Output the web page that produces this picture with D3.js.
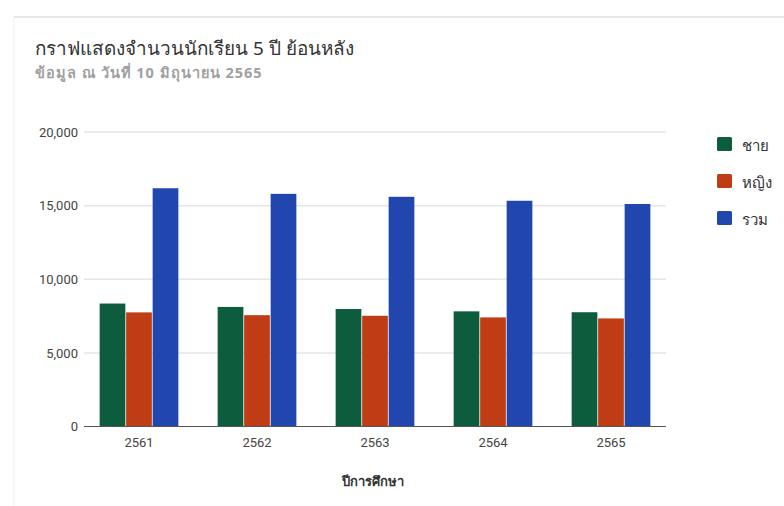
<!DOCTYPE html>
<html>
<head>
<meta charset="utf-8">
<script src="https://cdn.jsdelivr.net/npm/d3@7"></script>
<style>
html,body{margin:0;padding:0;background:#fff;}
svg{display:block;font-family:Roboto,"Noto Sans",sans-serif;}
</style>
</head>
<body>
<svg id="chart" width="784" height="506"></svg>
<script>
const categories = ["2561", "2562", "2563", "2564", "2565"];
const seriesNames = ["ชาย", "หญิง", "รวม"];
const male = [8350, 8120, 7980, 7820, 7760];
const female = [7750, 7560, 7520, 7410, 7340];
const total = [16180, 15800, 15600, 15330, 15110];
const yTicks = [0, 5000, 10000, 15000, 20000];
const colors = ["#0d5c3e", "#c03c14", "#2146ae"];
const titleText = "กราฟแสดงจำนวนนักเรียน 5 ปี ย้อนหลัง";
const subtitleText = "ข้อมูล ณ วันที่ 10 มิถุนายน 2565";
const xTitle = "ปีการศึกษา";

const series = [male, female, total];
const svg = d3.select("#chart");

// card frame
svg.append("line").attr("x1", 14).attr("x2", 784).attr("y1", 17).attr("y2", 17)
  .attr("stroke", "#e4e8e8").attr("stroke-width", 2);
svg.append("line").attr("x1", 14).attr("x2", 14).attr("y1", 17).attr("y2", 506)
  .attr("stroke", "#f0f0f0").attr("stroke-width", 1);

const plotLeft = 84, plotRight = 666, plotTop = 132, plotBottom = 426.5;
const y = d3.scaleLinear().domain([0, 20000]).range([plotBottom, plotTop]);
const x0 = d3.scaleBand().domain(categories).range([80, 670]).paddingInner(0.333).paddingOuter(0.1665);
const x1 = d3.scaleBand().domain(d3.range(series.length)).range([0, x0.bandwidth()]).paddingInner(0.03);

// gridlines
svg.append("g").selectAll("line").data(yTicks.filter(d => d > 0)).join("line")
  .attr("x1", plotLeft).attr("x2", plotRight)
  .attr("y1", d => y(d)).attr("y2", d => y(d))
  .attr("stroke", "#e6e6e6").attr("stroke-width", 1.5);

// y axis labels
const yAxis = d3.axisLeft(y).tickValues(yTicks).tickSize(0).tickPadding(0)
  .tickFormat(d3.format(","));
const gy = svg.append("g").attr("transform", `translate(78,0)`).call(yAxis);
gy.select(".domain").remove();
gy.selectAll("text").attr("fill", "#444").attr("font-size", 13).attr("font-family", "Roboto, sans-serif");

// bars
const groups = svg.append("g").selectAll("g").data(categories).join("g")
  .attr("transform", d => `translate(${x0(d)},0)`);
groups.selectAll("rect").data((c, i) => series.map((s, k) => ({k, v: s[i]}))).join("rect")
  .attr("x", d => x1(d.k)).attr("width", x1.bandwidth())
  .attr("y", d => y(d.v)).attr("height", d => y(0) - y(d.v))
  .attr("fill", d => colors[d.k]);

// baseline
svg.append("line").attr("x1", plotLeft).attr("x2", plotRight).attr("y1", y(0)).attr("y2", y(0))
  .attr("stroke", "#555").attr("stroke-width", 1.2);

// x axis labels
const xAxis = d3.axisBottom(x0).tickSize(0).tickPadding(11);
const gx = svg.append("g").attr("transform", `translate(0,${plotBottom})`).call(xAxis);
gx.select(".domain").remove();
gx.selectAll("text").attr("fill", "#444").attr("font-size", 13).attr("font-family", "Roboto, sans-serif");

// x title
svg.append("text").attr("x", 373).attr("y", 486).attr("text-anchor", "middle")
  .attr("font-size", 13).attr("font-weight", "bold").attr("fill", "#333")
  .attr("font-family", "'Noto Sans', sans-serif").text(xTitle);

// titles
svg.append("text").attr("x", 35).attr("y", 55).attr("font-size", 18.9).attr("fill", "#333")
  .attr("font-family", "'Noto Sans', sans-serif").text(titleText);
svg.append("text").attr("x", 35).attr("y", 78).attr("font-size", 14.5).attr("font-weight", "bold")
  .attr("letter-spacing", 1).attr("fill", "#a0a0a0")
  .attr("font-family", "'Noto Sans', sans-serif").text(subtitleText);

// legend
const lg = svg.append("g").selectAll("g").data(seriesNames).join("g")
  .attr("transform", (d, i) => `translate(717,${137 + i * 37})`);
lg.append("rect").attr("width", 15).attr("height", 14).attr("rx", 1.5)
  .attr("fill", (d, i) => colors[i]);
lg.append("text").attr("x", 25).attr("y", 14).attr("font-size", 15).attr("fill", "#333")
  .attr("font-family", "'Noto Sans', sans-serif").text(d => d);
</script>
</body>
</html>
